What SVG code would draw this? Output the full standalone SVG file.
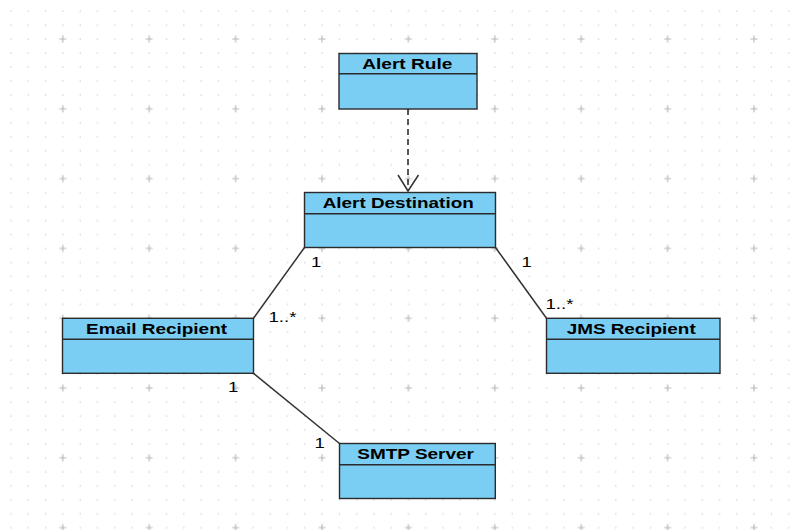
<svg xmlns="http://www.w3.org/2000/svg" width="799" height="530" viewBox="0 0 799 530">
<style>
.box{fill:#7acef3;stroke:#2b2b2b;stroke-width:1.4}
.div{stroke:#2b2b2b;stroke-width:1.4;fill:none}
.title{font-family:"Liberation Sans",Arial,sans-serif;font-weight:bold;font-size:15px;fill:#000}
.mult{font-family:"Liberation Sans",Arial,sans-serif;font-size:15px;fill:#000}
.conn{stroke:#333;stroke-width:1.5;fill:none}
.dash{stroke:#222;stroke-width:1.5;fill:none;stroke-dasharray:6 4}
</style>
<defs>
<pattern id="grid" patternUnits="userSpaceOnUse" x="2.32" y="4.12" width="86.4" height="69.8">
<g fill="#c6c6c6">
<rect x="8.14" y="6.48" width="1.2" height="1.2"/><rect x="25.42" y="6.48" width="1.2" height="1.2"/><rect x="42.7" y="6.48" width="1.2" height="1.2"/><rect x="59.98" y="6.48" width="1.2" height="1.2"/><rect x="77.26" y="6.48" width="1.2" height="1.2"/>
<rect x="8.14" y="20.44" width="1.2" height="1.2"/><rect x="25.42" y="20.44" width="1.2" height="1.2"/><rect x="42.7" y="20.44" width="1.2" height="1.2"/><rect x="59.98" y="20.44" width="1.2" height="1.2"/><rect x="77.26" y="20.44" width="1.2" height="1.2"/>
<rect x="8.14" y="34.4" width="1.2" height="1.2"/><rect x="25.42" y="34.4" width="1.2" height="1.2"/><rect x="42.7" y="34.4" width="1.2" height="1.2"/><rect x="77.26" y="34.4" width="1.2" height="1.2"/>
<rect x="8.14" y="48.36" width="1.2" height="1.2"/><rect x="25.42" y="48.36" width="1.2" height="1.2"/><rect x="42.7" y="48.36" width="1.2" height="1.2"/><rect x="59.98" y="48.36" width="1.2" height="1.2"/><rect x="77.26" y="48.36" width="1.2" height="1.2"/>
<rect x="8.14" y="62.32" width="1.2" height="1.2"/><rect x="25.42" y="62.32" width="1.2" height="1.2"/><rect x="42.7" y="62.32" width="1.2" height="1.2"/><rect x="59.98" y="62.32" width="1.2" height="1.2"/><rect x="77.26" y="62.32" width="1.2" height="1.2"/>
</g>
<path d="M56.98 34.9H63.98M60.48 31.4V38.4" stroke="#b8b8b8" stroke-width="1.2"/>
</pattern>
</defs>
<rect width="799" height="530" fill="#ffffff"/>
<rect width="799" height="530" fill="url(#grid)"/>

<g id="connectors">
<line class="dash" x1="408" y1="109" x2="408" y2="191"/>
<path class="conn" d="M398 175L408 191L418.5 175" stroke="#222"/>
<line class="conn" x1="304.5" y1="247.5" x2="253.5" y2="318.3"/>
<line class="conn" x1="495.5" y1="247.5" x2="546.5" y2="318.3"/>
<line class="conn" x1="253.5" y1="373.3" x2="339.5" y2="443.5"/>
<text class="mult" x="311" y="266.7" textLength="10.3" lengthAdjust="spacingAndGlyphs">1</text>
<text class="mult" x="268.5" y="322" textLength="28" lengthAdjust="spacingAndGlyphs">1..*</text>
<text class="mult" x="521.5" y="266.7" textLength="10.3" lengthAdjust="spacingAndGlyphs">1</text>
<text class="mult" x="545.5" y="308.7" textLength="28" lengthAdjust="spacingAndGlyphs">1..*</text>
<text class="mult" x="228" y="391.7" textLength="10.3" lengthAdjust="spacingAndGlyphs">1</text>
<text class="mult" x="314.5" y="448" textLength="10.3" lengthAdjust="spacingAndGlyphs">1</text>
</g>

<g id="alert-rule">
<rect class="box" x="339" y="53.5" width="138" height="55.5"/>
<line class="div" x1="339" y1="73.7" x2="477" y2="73.7"/>
<text class="title" x="362.3" y="69" textLength="90" lengthAdjust="spacingAndGlyphs">Alert Rule</text>
</g>

<g id="alert-destination">
<rect class="box" x="304.5" y="192.5" width="191" height="55"/>
<line class="div" x1="304.5" y1="213.7" x2="495.5" y2="213.7"/>
<text class="title" x="322.7" y="208.3" textLength="151" lengthAdjust="spacingAndGlyphs">Alert Destination</text>
</g>

<g id="email-recipient">
<rect class="box" x="62.5" y="318.3" width="191" height="55"/>
<line class="div" x1="62.5" y1="339.3" x2="253.5" y2="339.3"/>
<text class="title" x="86" y="334" textLength="141" lengthAdjust="spacingAndGlyphs">Email Recipient</text>
</g>

<g id="jms-recipient">
<rect class="box" x="546.5" y="318.3" width="173.5" height="55"/>
<line class="div" x1="546.5" y1="339.3" x2="720" y2="339.3"/>
<text class="title" x="566.7" y="334" textLength="129" lengthAdjust="spacingAndGlyphs">JMS Recipient</text>
</g>

<g id="smtp-server">
<rect class="box" x="339.5" y="443.5" width="155.8" height="55"/>
<line class="div" x1="339.5" y1="464.7" x2="495.3" y2="464.7"/>
<text class="title" x="357.3" y="459.3" textLength="116.7" lengthAdjust="spacingAndGlyphs">SMTP Server</text>
</g>
</svg>
